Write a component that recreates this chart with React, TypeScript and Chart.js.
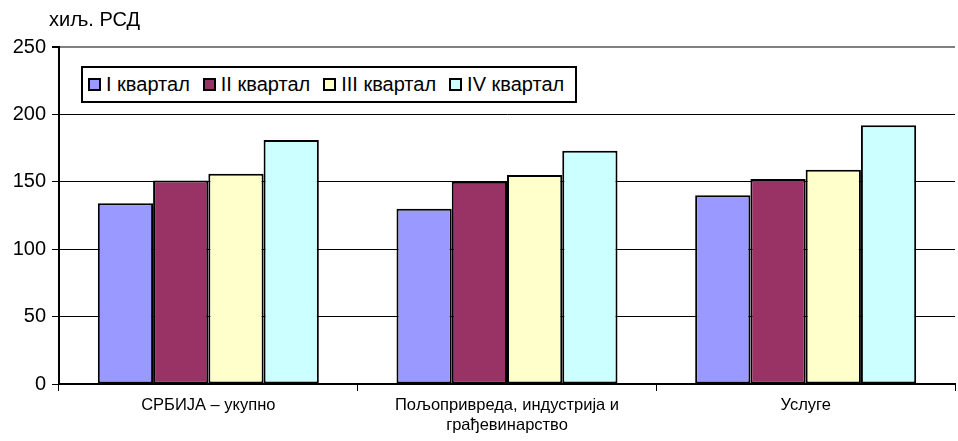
import React, { useEffect, useRef } from "react";
import { Chart, registerables } from "chart.js";

Chart.register(...registerables);

const categories: (string | string[])[] = [
  "СРБИЈА – укупно",
  ["Пољопривреда, индустрија и", "грађевинарство"],
  "Услуге",
];
const seriesNames = ["I квартал", "II квартал", "III квартал", "IV квартал"];
const q1 = [134, 130, 140];
const q2 = [151, 150, 152];
const q3 = [156, 155, 159];
const q4 = [181, 173, 192];
const colors = ["#9999FF", "#993366", "#FFFFCC", "#CCFFFF"];
const yTicks = [0, 50, 100, 150, 200, 250];
const unitLabel = "хиљ. РСД";

const FONT = "Arial, 'Liberation Sans', sans-serif";

export default function App() {
  const canvasRef = useRef<HTMLCanvasElement | null>(null);

  useEffect(() => {
    if (!canvasRef.current) return;
    const values = [q1, q2, q3, q4];
    const chart = new Chart(canvasRef.current, {
      type: "bar",
      data: {
        labels: categories,
        datasets: seriesNames.map((name, i) => ({
          label: name,
          data: values[i],
          backgroundColor: colors[i],
          borderColor: "#000000",
          borderWidth: 2,
          borderSkipped: false,
          barPercentage: 1,
          categoryPercentage: 0.74,
        })),
      },
      options: {
        animation: false,
        responsive: false,
        maintainAspectRatio: false,
        layout: { padding: { top: 47, right: 3, left: 0, bottom: 0 } },
        plugins: {
          legend: { display: false },
          tooltip: { enabled: false },
          title: { display: false },
        },
        scales: {
          x: {
            grid: {
              offset: true,
              drawOnChartArea: false,
              drawTicks: true,
              tickLength: 7,
              color: "#000000",
              tickColor: "#000000",
              lineWidth: 1,
            },
            border: { display: true, color: "#000000", width: 2 },
            ticks: {
              color: "#000000",
              font: { family: FONT, size: 16.5 },
              padding: 5,
              maxRotation: 0,
              autoSkip: false,
            },
            afterFit: (scale: any) => {
              scale.height = 57;
            },
          },
          y: {
            min: 0,
            max: 250,
            afterBuildTicks: (scale: any) => {
              scale.ticks = yTicks.map((v) => ({ value: v }));
            },
            grid: {
              color: (ctx: any) =>
                ctx.tick && ctx.tick.value === 250 ? "#808080" : "#000000",
              lineWidth: (ctx: any) =>
                ctx.tick && ctx.tick.value === 250 ? 2 : 1,
              tickColor: "#000000",
              tickLength: 7,
            },
            border: { display: true, color: "#000000", width: 2 },
            ticks: {
              color: "#000000",
              font: { family: FONT, size: 20 },
              padding: 6,
            },
            afterFit: (scale: any) => {
              scale.width = 59;
            },
          },
        },
      },
    });
    return () => chart.destroy();
  }, []);

  return (
    <div
      style={{
        position: "fixed",
        left: 0,
        top: 0,
        width: 958,
        height: 441,
        background: "#ffffff",
        fontFamily: FONT,
      }}
    >
      <canvas
        ref={canvasRef}
        width={958}
        height={441}
        style={{ position: "absolute", left: 0, top: 0, width: 958, height: 441 }}
      />
      <div
        style={{
          position: "absolute",
          left: 49,
          top: 8,
          fontSize: 20,
          color: "#000",
          whiteSpace: "nowrap",
        }}
      >
        {unitLabel}
      </div>
      <div
        style={{
          position: "absolute",
          left: 81,
          top: 66,
          width: 496,
          height: 37,
          boxSizing: "border-box",
          border: "2px solid #000",
          background: "#fff",
          display: "flex",
          alignItems: "center",
          paddingLeft: 5,
          fontSize: 20,
          color: "#000",
          whiteSpace: "nowrap",
        }}
      >
        {seriesNames.map((name, i) => (
          <div key={name} style={{ display: "flex", alignItems: "center", marginRight: 13 }}>
            <span
              style={{
                display: "inline-block",
                width: 13,
                height: 13,
                boxSizing: "border-box",
                border: "2px solid #000",
                background: colors[i],
                marginRight: 5,
              }}
            />
            <span>{name}</span>
          </div>
        ))}
      </div>
    </div>
  );
}
